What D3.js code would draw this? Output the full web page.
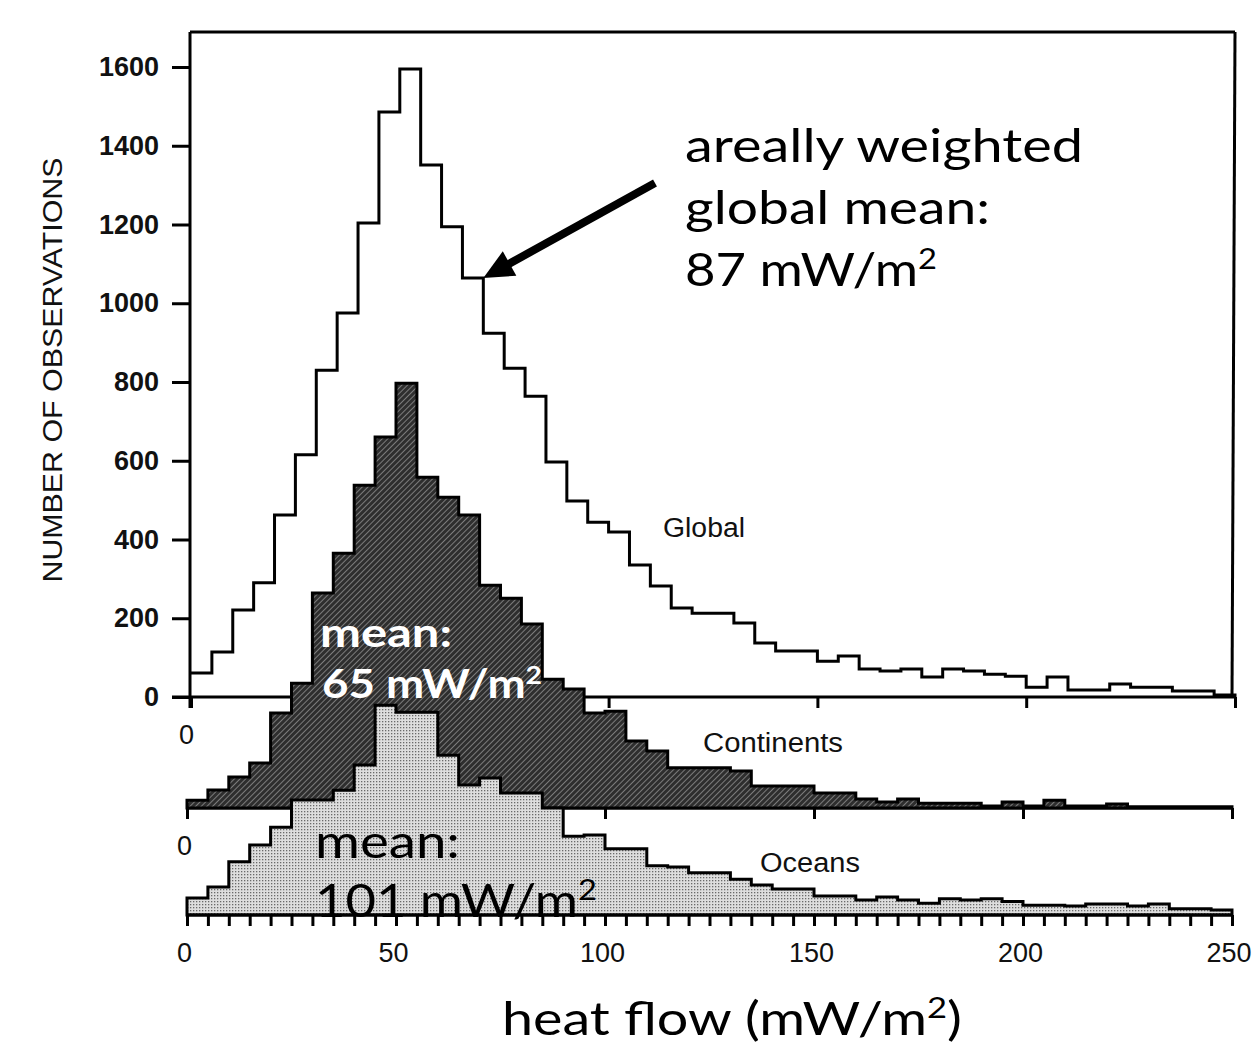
<!DOCTYPE html>
<html><head><meta charset="utf-8">
<script src="https://cdn.jsdelivr.net/npm/d3@7/dist/d3.min.js"></script>
<style>body{margin:0;background:#fff} svg{display:block}</style>
</head><body>
<svg id="c" width="1254" height="1046"></svg>
<script>
// ---------- data (bins of 5 mW/m^2 from 0 to 250) ----------
const binStarts = d3.range(0, 250, 5);
const globalCounts = [61,114,221,290,462,615,830,975,1204,1486,
  1595,1351,1194,1064,924,835,764,597,498,444,
  419,335,282,226,213,213,188,137,117,117,
  91,104,71,66,71,51,71,66,58,53,
  25,51,18,18,33,25,25,15,15,5];
const continentCounts = [20,46,79,114,241,317,546,647,820,942,
  1079,840,789,744,566,533,467,327,302,241,
  246,170,145,102,102,102,94,56,56,56,
  38,38,23,15,23,12,12,12,5,15,
  5,20,5,5,10,3,3,3,3,3];
const oceanCounts = [43,71,135,178,223,292,292,317,381,533,
  515,515,406,330,348,310,310,272,200,203,
  168,168,125,122,107,107,91,76,66,66,
  48,48,38,46,38,30,41,38,41,34,
  25,25,23,28,28,23,28,16,16,13];
const yTicks = [0,200,400,600,800,1000,1200,1400,1600];
const xMajorTicks = [0,50,100,150,200,250];
const xMinorTicks = d3.range(0, 251, 5);
const seriesLabels = ["Global","Continents","Oceans"];

// ---------- layout ----------
const svg = d3.select("#c");
const x = d3.scaleLinear().domain([0,250]).range([187,1232]);   // lower panels
const xG = d3.scaleLinear().domain([0,250]).range([191,1235]);  // upper (global) panel
const yG = d3.scaleLinear().domain([0,1600]).range([697,67]);
const yC = d3.scaleLinear().domain([0,1600]).range([808,808-630]);
const yO = d3.scaleLinear().domain([0,1600]).range([915,915-630]);

const defs = svg.append("defs");
const hatch = defs.append("pattern").attr("id","hatch").attr("patternUnits","userSpaceOnUse")
  .attr("width",4).attr("height",4).attr("patternTransform","rotate(45)");
hatch.append("rect").attr("width",4).attr("height",4).attr("fill","#2e2e2e");
hatch.append("line").attr("x1",0).attr("y1",0).attr("x2",0).attr("y2",4)
  .attr("stroke","#9c9c9c").attr("stroke-width",1.4);
const dots = defs.append("pattern").attr("id","dots").attr("patternUnits","userSpaceOnUse")
  .attr("width",3).attr("height",3);
dots.append("rect").attr("width",3).attr("height",3).attr("fill","#dedede");
dots.append("rect").attr("x",1).attr("y",1).attr("width",1.3).attr("height",1.3).attr("fill","#6a6a6a");

const stepData = arr => binStarts.map((s,i)=>[s,arr[i]]).concat([[250,arr[arr.length-1]]]);
const lw = 3;
const TF = "Liberation Sans, Arial, sans-serif";

// ---------- global panel frame ----------
svg.append("line").attr("x1",190).attr("x2",1235).attr("y1",32).attr("y2",32)
  .attr("stroke","#000").attr("stroke-width",lw);
svg.append("line").attr("x1",1235).attr("x2",1232).attr("y1",32).attr("y2",697)
  .attr("stroke","#000").attr("stroke-width",lw);
svg.append("line").attr("x1",190).attr("x2",190).attr("y1",32).attr("y2",708)
  .attr("stroke","#000").attr("stroke-width",lw);

// y axis
const yAxis = d3.axisLeft(yG).tickValues(yTicks).tickSize(18).tickPadding(13)
  .tickSizeOuter(0).tickFormat(d3.format("d"));
const ga = svg.append("g").attr("transform","translate(190,0)").call(yAxis);
ga.select(".domain").remove();
ga.selectAll(".tick line").attr("stroke","#000").attr("stroke-width",lw);
ga.selectAll(".tick text").attr("font-family",TF)
  .attr("font-size",27).attr("font-weight","bold").attr("fill","#111");

svg.append("text").attr("transform","translate(62,370) rotate(-90)")
  .attr("text-anchor","middle").attr("font-family",TF)
  .attr("font-size",28).attr("textLength",425).attr("lengthAdjust","spacingAndGlyphs")
  .attr("fill","#111").text("NUMBER OF OBSERVATIONS");

function baseAxis(scale, y0, ticks, labelFn){
  const ax = d3.axisBottom(scale).tickValues(ticks).tickSize(11).tickPadding(17)
    .tickSizeOuter(0).tickFormat(labelFn);
  const g = svg.append("g").attr("transform",`translate(0,${y0})`).call(ax);
  g.select(".domain").remove();
  g.selectAll(".tick line").attr("stroke","#000").attr("stroke-width",lw);
  g.selectAll(".tick text").attr("font-family",TF)
    .attr("font-size",27).attr("fill","#111");
  return g;
}
// global baseline axis
svg.append("line").attr("x1",172).attr("x2",1234).attr("y1",697).attr("y2",697)
  .attr("stroke","#000").attr("stroke-width",lw);
const gAx = baseAxis(xG, 697, xMajorTicks, d => d===0 ? "0" : "");
gAx.selectAll(".tick text").attr("dx",-5);

// global step outline
const lineG = d3.line().curve(d3.curveStepAfter).x(d=>xG(d[0])).y(d=>yG(d[1]));
svg.append("path").datum(stepData(globalCounts).concat([[250,0]]))
  .attr("d",lineG).attr("fill","none").attr("stroke","#000").attr("stroke-width",lw);

// continents
svg.append("line").attr("x1",186).attr("x2",1233).attr("y1",808).attr("y2",808)
  .attr("stroke","#000").attr("stroke-width",lw);
const cAx = baseAxis(x, 808, xMajorTicks, d => d===0 ? "0" : "");
cAx.selectAll(".tick text").attr("dx",-3);
const areaC = d3.area().curve(d3.curveStepAfter).x(d=>x(d[0])).y0(yC(0)).y1(d=>yC(d[1]));
svg.append("path").datum(stepData(continentCounts)).attr("d",areaC)
  .attr("fill","url(#hatch)").attr("stroke","#000").attr("stroke-width",lw);

// oceans
const areaO = d3.area().curve(d3.curveStepAfter).x(d=>x(d[0])).y0(yO(0)).y1(d=>yO(d[1]));
svg.append("path").datum(stepData(oceanCounts)).attr("d",areaO)
  .attr("fill","url(#dots)").attr("stroke","#000").attr("stroke-width",lw);
svg.append("line").attr("x1",186).attr("x2",1233).attr("y1",915).attr("y2",915)
  .attr("stroke","#000").attr("stroke-width",lw);
const oAx = baseAxis(x, 915, xMinorTicks, d => d%50===0 ? String(d) : "");
oAx.selectAll(".tick text").attr("dx",-3);
oAx.selectAll(".tick text").filter(d => d===250).attr("text-anchor","end").attr("dx",19);

// series labels
const lab = [[seriesLabels[0],663,537,82],[seriesLabels[1],703,752,140],[seriesLabels[2],760,872,100]];
lab.forEach(([t,lx,ly,w])=>{
  svg.append("text").attr("x",lx).attr("y",ly).attr("font-family",TF)
    .attr("font-size",27).attr("textLength",w).attr("lengthAdjust","spacingAndGlyphs")
    .attr("fill","#111").text(t);
});

// arrow to areally weighted mean
const tip = [xG(70), yG(globalCounts[13])];
const tail = [655,183];
const ang = Math.atan2(tip[1]-tail[1], tip[0]-tail[0]);
const hl = 30, hw = 14;
const bx = tip[0]-hl*Math.cos(ang), by = tip[1]-hl*Math.sin(ang);
svg.append("line").attr("x1",tail[0]).attr("y1",tail[1]).attr("x2",bx+4*Math.cos(ang)).attr("y2",by+4*Math.sin(ang))
  .attr("stroke","#000").attr("stroke-width",8);
svg.append("path").attr("d",`M${tip[0]},${tip[1]}L${bx-hw*Math.sin(ang)},${by+hw*Math.cos(ang)}L${bx+hw*Math.sin(ang)},${by-hw*Math.cos(ang)}Z`)
  .attr("fill","#000");

// annotation text
const AF = "Lato, 'Open Sans', sans-serif";
function ann(parts, tx, ty, size, w, col, weight){
  const t = svg.append("text").attr("x",tx).attr("y",ty).attr("font-family",AF)
    .attr("font-size",size).attr("fill",col).attr("font-weight",weight||"normal");
  if (w) t.attr("textLength",w).attr("lengthAdjust","spacingAndGlyphs");
  parts.forEach(p => {
    if (typeof p === "string") t.append("tspan").attr("baseline-shift","0%").text(p);
    else t.append("tspan").attr("font-size",size*0.62).attr("baseline-shift","super").text(p.sup);
  });
  return t;
}
ann(["areally weighted"], 685, 162, 46, 398, "#000");
ann(["global mean:"], 685, 224, 46, 305, "#000");
ann(["87 mW/m",{sup:"2"}], 685, 286, 46, 252, "#000");

ann(["mean:"], 320, 647, 40, 132, "#fff", "bold");
ann(["65 mW/m",{sup:"2"}], 322, 698, 40, 220, "#fff", "bold");

ann(["mean:"], 315, 858, 46, 145, "#000");
ann(["101 mW/m",{sup:"2"}], 315, 917, 46, 282, "#000");

ann(["heat flow (mW/m",{sup:"2"},")"], 502, 1035, 46, 460, "#000");
</script>
</body></html>
